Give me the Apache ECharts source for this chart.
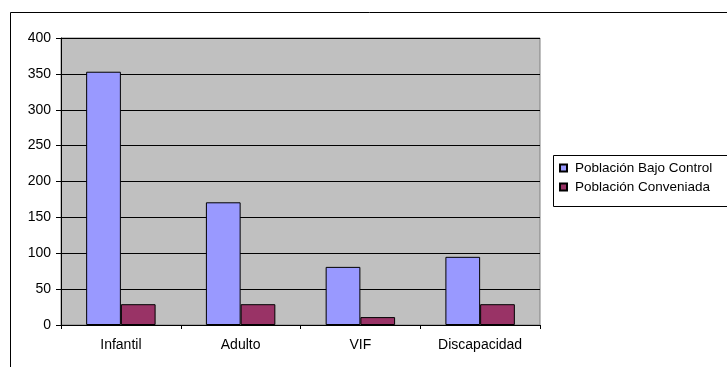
<!DOCTYPE html>
<html>
<head>
<meta charset="utf-8">
<script src="https://cdn.jsdelivr.net/npm/echarts@6/dist/echarts.min.js"></script>
<style>
  html, body { margin: 0; padding: 0; background: #fff; }
  #chart { width: 727px; height: 367px; }
</style>
</head>
<body>
<div id="chart"></div>
<script>
// Categories and series values
const categories = ['Infantil', 'Adulto', 'VIF', 'Discapacidad'];
const bajoControl = [353, 171, 81, 95];
const conveniada = [29, 29, 11, 29];
const seriesNames = ['Población Bajo Control', 'Población Conveniada'];
const yTicks = [0, 50, 100, 150, 200, 250, 300, 350, 400];

const font = 'Arial, "Liberation Sans", sans-serif';
const chart = echarts.init(document.getElementById('chart'), null, { renderer: 'canvas' });

chart.setOption({
  animation: false,
  backgroundColor: '#ffffff',
  textStyle: { fontFamily: font },
  graphic: [
    // outer chart frame
    { type: 'rect', z: -10, shape: { x: 10.5, y: 12.5, width: 800, height: 400 },
      style: { fill: '#ffffff', stroke: '#000000', lineWidth: 1 } },
    // legend frame
    { type: 'rect', z: 0, shape: { x: 553.5, y: 155.5, width: 200, height: 51 },
      style: { fill: '#ffffff', stroke: '#000000', lineWidth: 1 } }
  ],
  grid: {
    left: 61, top: 38, width: 479, height: 287,
    show: true, backgroundColor: '#C0C0C0', borderColor: '#808080', borderWidth: 1
  },
  legend: {
    orient: 'vertical',
    left: 559, top: 161,
    z: 5,
    icon: 'rect',
    itemWidth: 7, itemHeight: 7,
    itemGap: 5,
    padding: 0,
    textStyle: { fontFamily: font, fontSize: 13.5, color: '#000', lineHeight: 14, padding: [0, 0, 0, 3] },
    data: seriesNames
  },
  xAxis: {
    type: 'category',
    data: categories,
    axisLine: { lineStyle: { color: '#000', width: 1 } },
    axisTick: { show: true, length: 4, lineStyle: { color: '#000' } },
    axisLabel: { fontFamily: font, fontSize: 14, color: '#000', margin: 13 },
    splitLine: { show: false }
  },
  yAxis: {
    type: 'value',
    min: yTicks[0], max: yTicks[yTicks.length - 1], interval: 50,
    axisLine: { show: true, lineStyle: { color: '#000', width: 1 } },
    axisTick: { show: true, length: 5, lineStyle: { color: '#000' } },
    axisLabel: { fontFamily: font, fontSize: 14, color: '#000', margin: 10 },
    splitLine: { show: true, lineStyle: { color: '#000', width: 1 } }
  },
  series: [
    {
      name: seriesNames[0], type: 'bar', data: bajoControl,
      barGap: '0%', barCategoryGap: '42%',
      itemStyle: { color: '#9999FF', borderColor: '#000', borderWidth: 1 }
    },
    {
      name: seriesNames[1], type: 'bar', data: conveniada,
      barGap: '0%', barCategoryGap: '42%',
      itemStyle: { color: '#993366', borderColor: '#000', borderWidth: 1 }
    }
  ]
});
</script>
</body>
</html>
